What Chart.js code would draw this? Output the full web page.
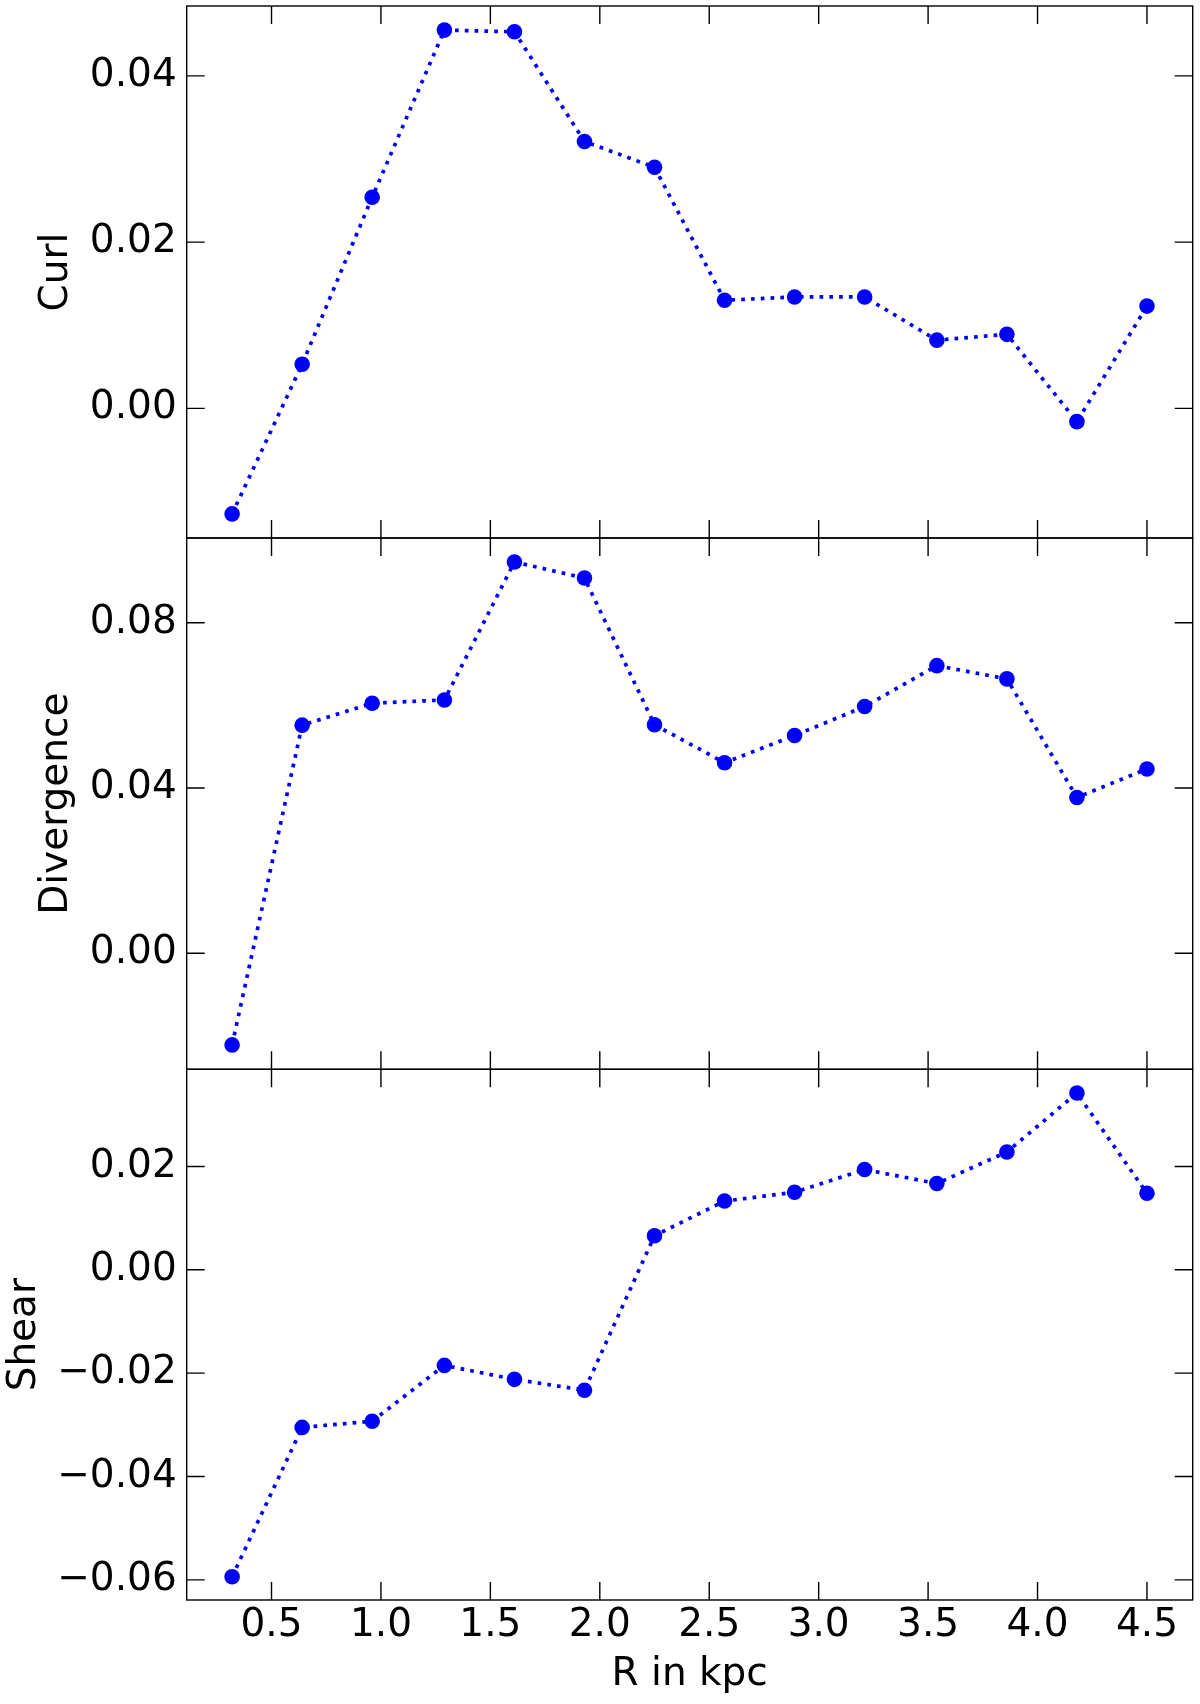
<!DOCTYPE html>
<html>
<head>
<meta charset="utf-8">
<script src="https://cdn.jsdelivr.net/npm/chart.js@4.4.1/dist/chart.umd.min.js"></script>
<style>
  html, body { margin: 0; padding: 0; background: #ffffff; }
  #wrap { position: relative; width: 1200px; height: 1704px; background: #ffffff; overflow: hidden; }
  canvas { position: absolute; left: 0; }
</style>
</head>
<body>
<div id="wrap">
  <canvas id="c1" width="1200" height="548" style="top:0px"></canvas>
  <canvas id="c2" width="1200" height="551" style="top:528px"></canvas>
  <canvas id="c3" width="1200" height="645" style="top:1059px"></canvas>
</div>
<script>
// ---- data ----
const R_KPC = [0.32, 0.64, 0.96, 1.29, 1.61, 1.93, 2.25, 2.57, 2.89, 3.21, 3.54, 3.86, 4.18, 4.50];
const CURL = [-0.0127, 0.0053, 0.0254, 0.0455, 0.0453, 0.0321, 0.0290, 0.0130, 0.0134, 0.0134, 0.0082, 0.0089, -0.0016, 0.0123];
const DIVERGENCE = [-0.0222, 0.0552, 0.0605, 0.0613, 0.0947, 0.0908, 0.0553, 0.0461, 0.0527, 0.0597, 0.0696, 0.0664, 0.0377, 0.0446];
const SHEAR = [-0.0594, -0.0305, -0.0293, -0.0185, -0.0212, -0.0233, 0.0066, 0.0133, 0.0150, 0.0194, 0.0167, 0.0228, 0.0342, 0.0148];

// ---- ticks / labels ----
const X_TICKS = [0.5, 1.0, 1.5, 2.0, 2.5, 3.0, 3.5, 4.0, 4.5];
const X_TICK_LABELS = ['0.5', '1.0', '1.5', '2.0', '2.5', '3.0', '3.5', '4.0', '4.5'];
const CURL_TICKS = [0.00, 0.02, 0.04];
const CURL_TICK_LABELS = ['0.00', '0.02', '0.04'];
const DIV_TICKS = [0.00, 0.04, 0.08];
const DIV_TICK_LABELS = ['0.00', '0.04', '0.08'];
const SHEAR_TICKS = [-0.06, -0.04, -0.02, 0.00, 0.02];
const SHEAR_TICK_LABELS = ['\u22120.06', '\u22120.04', '\u22120.02', '0.00', '0.02'];

// ---- axis ranges ----
const X_RANGE = [0.1125, 4.709];
const CURL_RANGE = [-0.0156, 0.0484];
const DIV_RANGE = [-0.0281, 0.1005];
const SHEAR_RANGE = [-0.0639, 0.0388];

Chart.defaults.font.family = "'DejaVu Sans', sans-serif";
Chart.defaults.color = '#000000';

const FONT_SIZE = 39;
const TICK_LEN = 18;

const framePlugin = {
  id: 'frame',
  afterDraw(chart, args, opts) {
    const { ctx, chartArea: a, scales } = chart;
    ctx.save();
    ctx.strokeStyle = '#000000';
    ctx.lineWidth = 1.4;
    ctx.lineCap = 'butt';
    ctx.strokeRect(a.left, a.top, a.right - a.left, a.bottom - a.top);
    ctx.beginPath();
    X_TICKS.forEach(v => {
      const px = scales.x.getPixelForValue(v);
      ctx.moveTo(px, a.top); ctx.lineTo(px, a.top + TICK_LEN);
      ctx.moveTo(px, a.bottom); ctx.lineTo(px, a.bottom - TICK_LEN);
    });
    opts.yTicks.forEach(v => {
      const py = scales.y.getPixelForValue(v);
      ctx.moveTo(a.left, py); ctx.lineTo(a.left + TICK_LEN, py);
      ctx.moveTo(a.right, py); ctx.lineTo(a.right - TICK_LEN, py);
    });
    ctx.stroke();
    ctx.restore();
  }
};

function makePanel(id, values, range, yTicks, yLabels, yTitle, cfg) {
  return new Chart(document.getElementById(id), {
    type: 'line',
    data: {
      datasets: [{
        data: R_KPC.map((x, i) => ({ x: x, y: values[i] })),
        borderColor: '#0000ff',
        backgroundColor: '#0000ff',
        borderWidth: 3.7,
        borderDash: [3.7, 6.1],
        borderCapStyle: 'butt',
        tension: 0,
        fill: false,
        pointRadius: 7.8,
        pointHoverRadius: 7.8,
        pointBorderWidth: 0,
        pointBackgroundColor: '#0000ff',
        clip: false
      }]
    },
    options: {
      responsive: false,
      animation: false,
      events: [],
      layout: { padding: cfg.padding, autoPadding: false },
      plugins: {
        legend: { display: false },
        tooltip: { enabled: false },
        frame: { yTicks: yTicks }
      },
      scales: {
        x: {
          type: 'linear',
          min: X_RANGE[0],
          max: X_RANGE[1],
          display: cfg.showX,
          grid: { display: false, drawTicks: false },
          border: { display: false },
          afterBuildTicks: s => { s.ticks = X_TICKS.map(v => ({ value: v })); },
          afterFit: s => {
            if (cfg.showX) s.height = 104;
            s.paddingLeft = 0; s.paddingRight = 0; s.paddingTop = 0; s.paddingBottom = 0;
          },
          ticks: {
            font: { size: FONT_SIZE },
            color: '#000000',
            padding: 2.3,
            maxRotation: 0,
            minRotation: 0,
            autoSkip: false,
            callback: (v, i) => X_TICK_LABELS[i]
          },
          title: {
            display: cfg.showX,
            text: 'R in kpc',
            font: { size: FONT_SIZE },
            color: '#000000',
            padding: { top: 0, bottom: 5.6 }
          }
        },
        y: {
          type: 'linear',
          min: range[0],
          max: range[1],
          grid: { display: false, drawTicks: false },
          border: { display: false },
          afterBuildTicks: s => { s.ticks = yTicks.map(v => ({ value: v })); },
          afterFit: s => {
            s.width = 186.7;
            s.paddingLeft = 0; s.paddingRight = 0; s.paddingTop = 0; s.paddingBottom = 0;
          },
          ticks: {
            font: { size: FONT_SIZE },
            color: '#000000',
            padding: 10,
            autoSkip: false,
            callback: (v, i) => yLabels[i]
          },
          title: {
            display: true,
            text: yTitle,
            font: { size: FONT_SIZE },
            color: '#000000',
            padding: { top: cfg.titlePad, bottom: 0 }
          }
        }
      }
    },
    plugins: [framePlugin]
  });
}

makePanel('c1', CURL, CURL_RANGE, CURL_TICKS, CURL_TICK_LABELS, 'Curl',
  { showX: false, titlePad: 33.6, padding: { left: 0, right: 7.3, top: 6, bottom: 10 } });
makePanel('c2', DIVERGENCE, DIV_RANGE, DIV_TICKS, DIV_TICK_LABELS, 'Divergence',
  { showX: false, titlePad: 33.6, padding: { left: 0, right: 7.3, top: 10, bottom: 9.7 } });
makePanel('c3', SHEAR, SHEAR_RANGE, SHEAR_TICKS, SHEAR_TICK_LABELS, 'Shear',
  { showX: true, titlePad: 1.6, padding: { left: 0, right: 7.3, top: 10.3, bottom: 0 } });
</script>
</body>
</html>
